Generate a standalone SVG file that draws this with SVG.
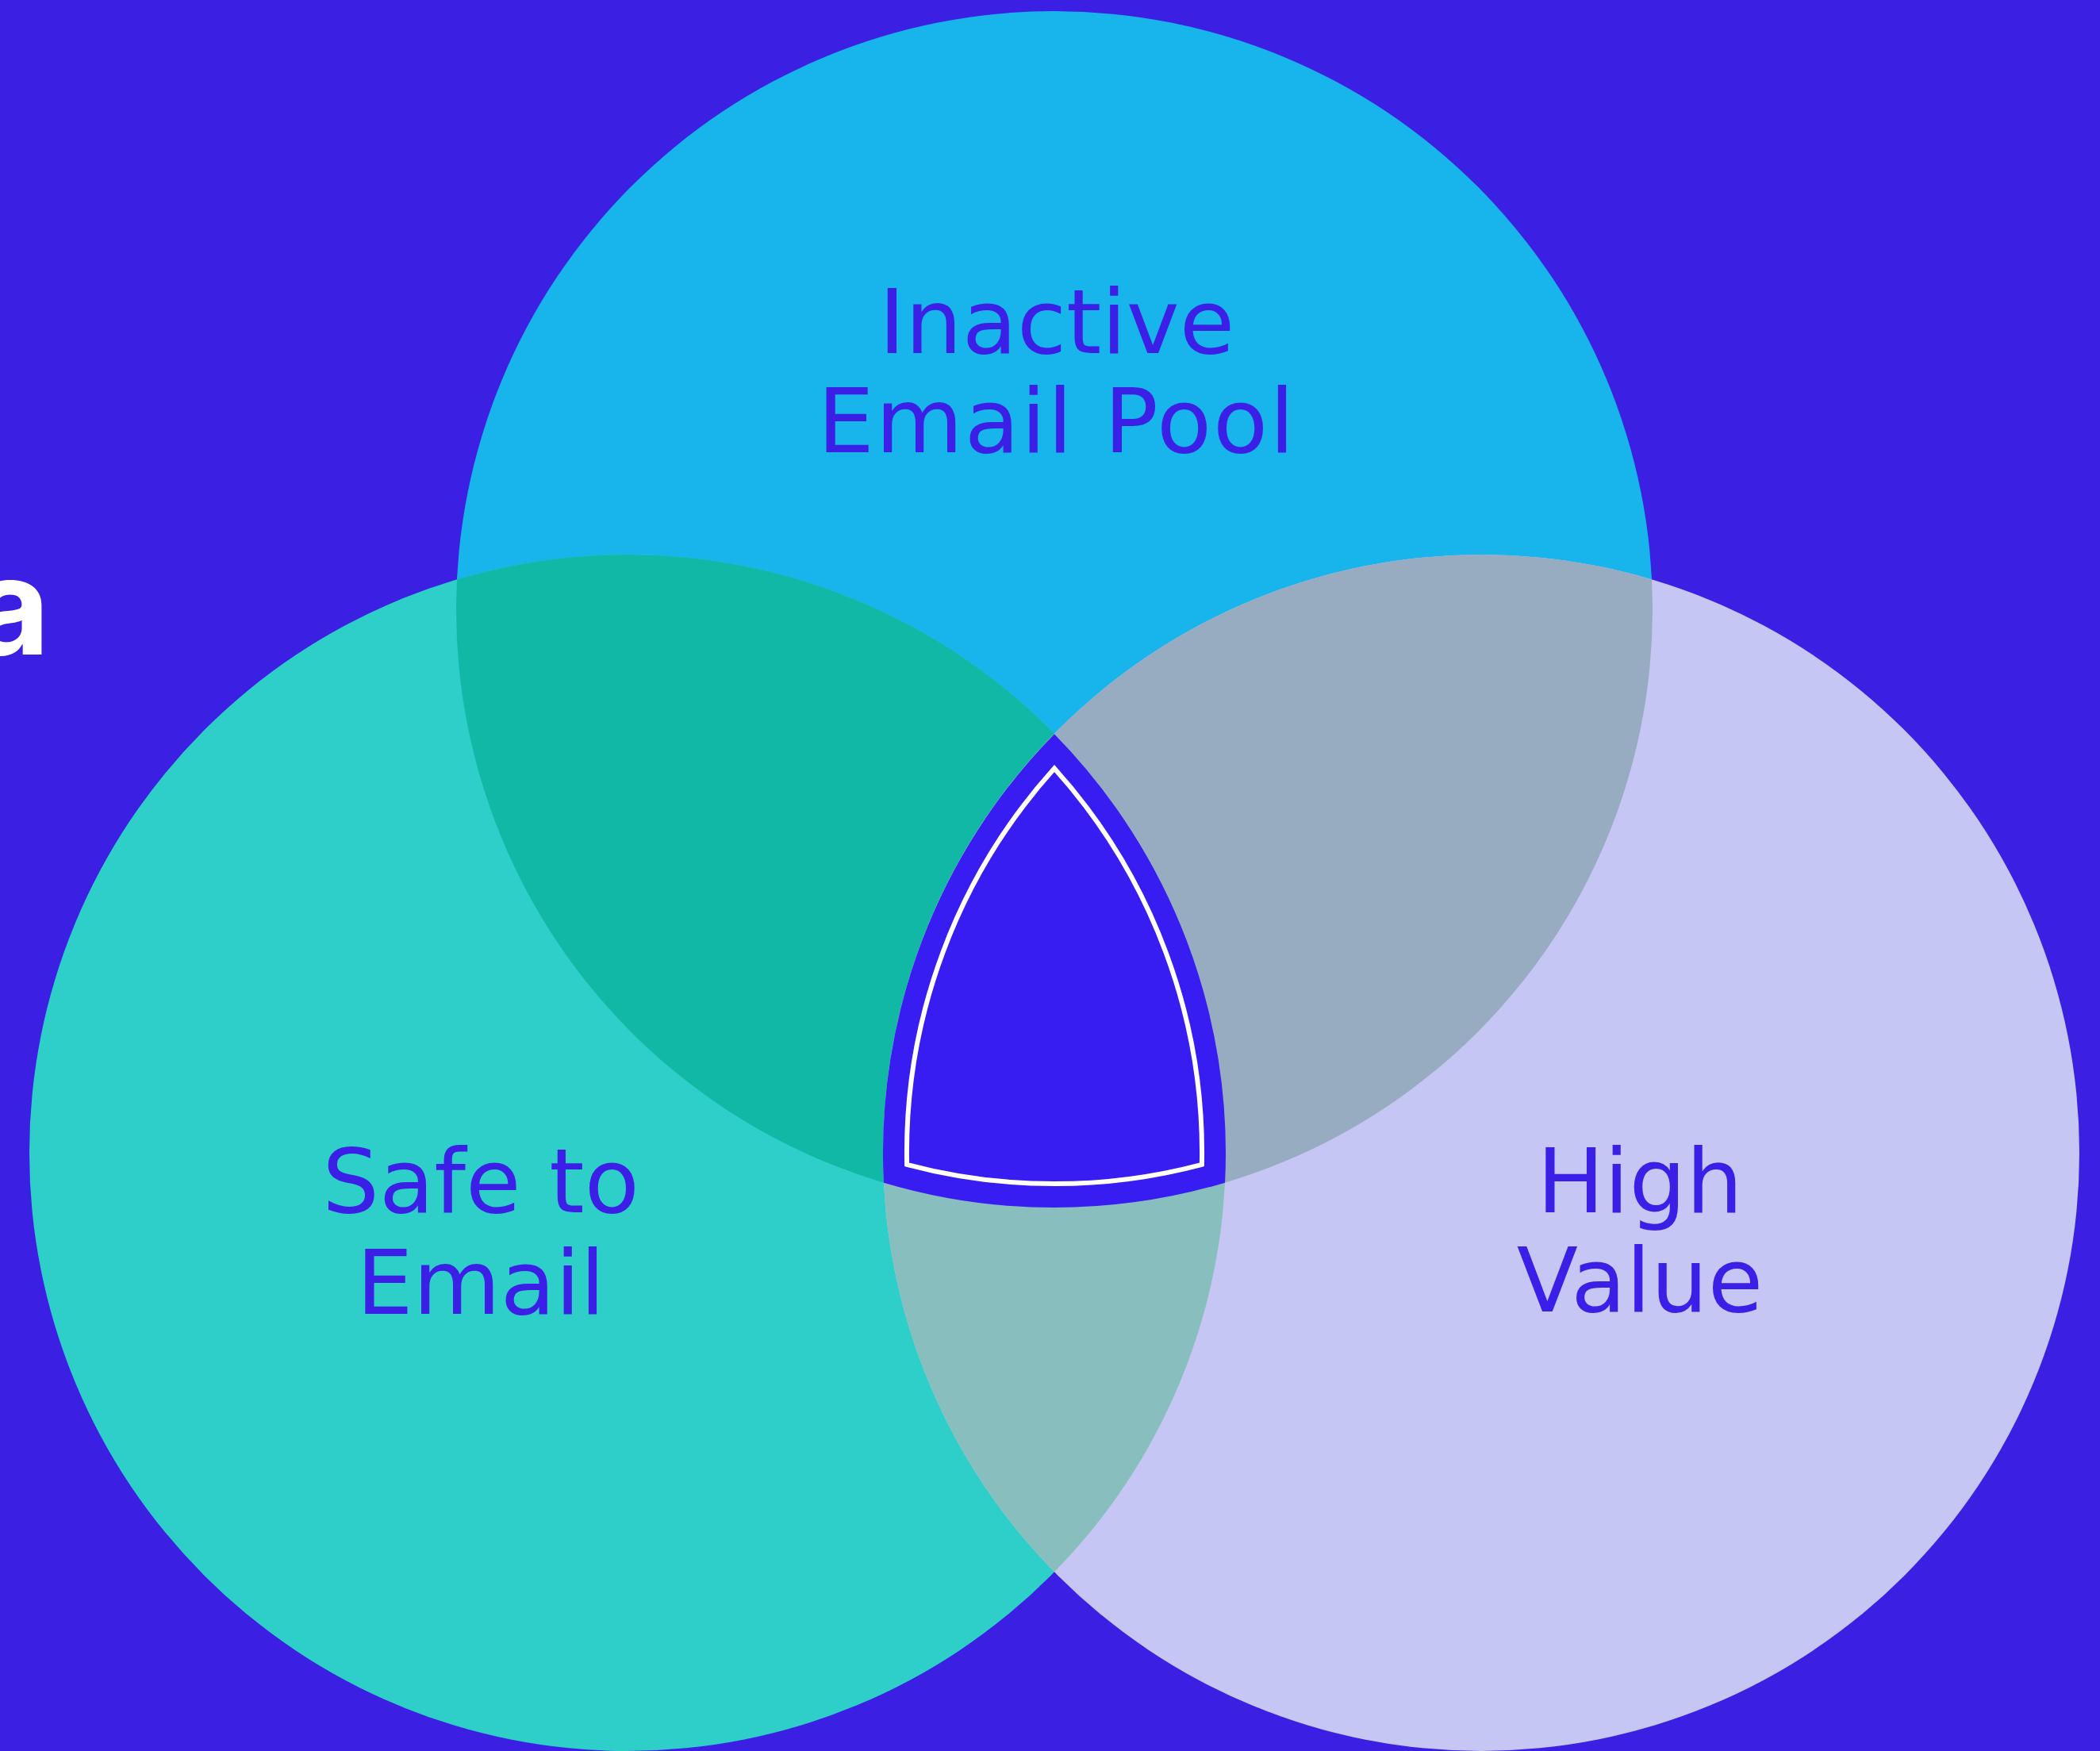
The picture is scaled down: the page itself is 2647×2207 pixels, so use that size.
<svg xmlns="http://www.w3.org/2000/svg" width="2647" height="2207" viewBox="0 0 2647 2207">
  <style>
    .label { font-family: "DejaVu Sans", "Liberation Sans", sans-serif; font-size: 113px; fill: #3B1FE6; text-anchor: middle; }
    .wide { letter-spacing: 2px; }
    .head { font-family: Inter, "Liberation Sans", sans-serif; font-weight: 700; font-size: 170px; fill: #FFFFFF; text-anchor: end; }
  </style>
  <defs>
    <clipPath id="clip-top"><circle cx="1329" cy="768" r="754"/></clipPath>
    <clipPath id="clip-left"><circle cx="791" cy="1453" r="754"/></clipPath>
  </defs>

  <!-- backdrop -->
  <rect x="0" y="0" width="2647" height="2207" fill="#3B20E4"/>

  <!-- heading fragment at the left margin -->
  <text class="head" x="63" y="825">a</text>

  <!-- three sets -->
  <g id="set-inactive">
    <circle cx="1329" cy="768" r="754" fill="#18B4EC"/>
  </g>
  <g id="set-safe">
    <circle cx="791" cy="1453" r="754" fill="#2ECFC9"/>
  </g>
  <g id="set-value">
    <circle cx="1867" cy="1453" r="754" fill="#C5C6F3"/>
  </g>

  <!-- pairwise overlaps -->
  <g id="overlaps">
    <circle cx="791" cy="1453" r="754" fill="#12B8A6" clip-path="url(#clip-top)"/>
    <circle cx="1867" cy="1453" r="754" fill="#97ACC1" clip-path="url(#clip-top)"/>
    <circle cx="1867" cy="1453" r="754" fill="#88BFBE" clip-path="url(#clip-left)"/>
  </g>

  <!-- triple intersection with inset outline -->
  <g id="center">
    <path d="M1329 925.2 A754 754 0 0 0 1113.9 1490.7 A754 754 0 0 0 1544.1 1490.7 A754 754 0 0 0 1329 925.2 Z" fill="#381DF2"/>
    <path d="M1329 968.5 A724 724 0 0 0 1143.1 1467.8 A724 724 0 0 0 1514.9 1467.8 A724 724 0 0 0 1329 968.5 Z" fill="none" stroke="#FFFFFF" stroke-width="6" stroke-linejoin="miter"/>
  </g>

  <!-- set labels -->
  <g id="labels">
    <text class="label" x="1332" y="445">Inactive</text>
    <text class="label wide" x="1332" y="570">Email Pool</text>
    <text class="label" x="606" y="1528">Safe to</text>
    <text class="label" x="606" y="1656">Email</text>
    <text class="label" x="2067" y="1528">High</text>
    <text class="label" x="2067" y="1653">Value</text>
  </g>
</svg>
